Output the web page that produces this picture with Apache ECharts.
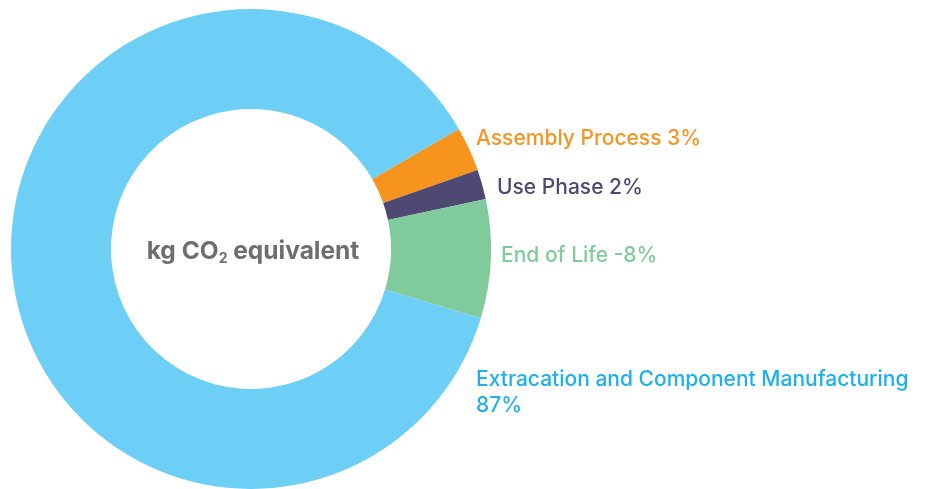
<!DOCTYPE html>
<html>
<head>
<meta charset="utf-8">
<script src="https://cdn.jsdelivr.net/npm/echarts@6/dist/echarts.min.js"></script>
<style>
  html, body { margin: 0; padding: 0; background: #fff; }
  #Chart { width: 928px; height: 489px; }
</style>
</head>
<body>
<div id="Chart"></div>
<script>
// 数据
var categories = ["Assembly Process", "Use Phase", "End of Life", "Extracation and Component Manufacturing"];
var values = [3, 2, 8, 87];
var shownPct = ["3%", "2%", "-8%", "87%"];
var sliceColors = ["#f7941d", "#4e4872", "#80cb9c", "#6dcff6"];
var labelColors = ["#f7941d", "#4e4872", "#80cb9c", "#1cb0ec"];

// label anchor (left / top) for each slice
var labelPos = [[476, 126], [497, 175], [501, 243], [476, 367]];

var myChart = echarts.init(document.getElementById("Chart"));
var seriesData = categories.map(function (c, i) {
    var multi = i === 3;
    return {
        name: c,
        value: values[i],
        itemStyle: { color: sliceColors[i] },
        label: {
            color: labelColors[i],
            formatter: multi ? c + "\n" + shownPct[i] : c + " " + shownPct[i]
        }
    };
});

var option = {
    animation: false,
    title: {
        text: "kg CO{sub|2} equivalent",
        left: 248,
        top: 233,
        textAlign: "center",
        textStyle: {
            fontFamily: "Inter",
            fontSize: 24.5,
            fontWeight: "bold",
            color: "#6d6e71",
            rich: {
                sub: {
                    fontFamily: "Inter",
                    fontSize: 14,
                    fontWeight: "bold",
                    color: "#6d6e71",
                    padding: [14, 0, 0, 0]
                }
            }
        }
    },
    series: [
        {
            type: "pie",
            center: [251, 249],
            radius: [140, 240],
            startAngle: 30,
            clockwise: true,
            avoidLabelOverlap: false,
            data: seriesData,
            label: {
                show: true,
                position: "outside",
                fontFamily: "Inter",
                fontWeight: 500,
                fontSize: 21,
                lineHeight: 26
            },
            labelLine: { show: false },
            labelLayout: function (params) {
                var p = labelPos[params.dataIndex];
                return {
                    x: p[0],
                    y: p[1],
                    align: "left",
                    verticalAlign: "top"
                };
            }
        }
    ]
};
myChart.setOption(option);
window.addEventListener("resize", function () {
    myChart.resize();
});
</script>
</body>
</html>
